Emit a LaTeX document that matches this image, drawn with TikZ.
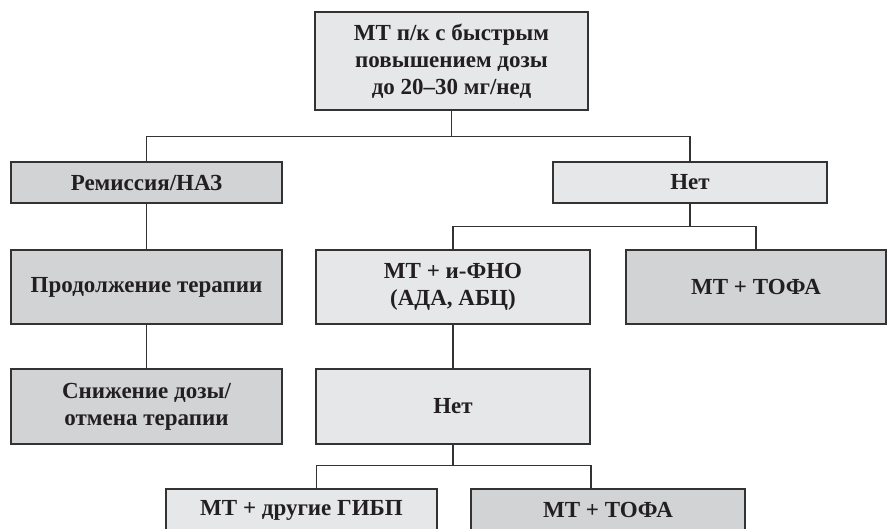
\documentclass[tikz,border=0pt]{standalone}
\usepackage{fontspec}
\setmainfont{Liberation Serif}
\definecolor{lightbox}{HTML}{E6E7E8}
\definecolor{darkbox}{HTML}{D1D3D4}
\definecolor{edge}{HTML}{333333}
\definecolor{ink}{HTML}{231F20}
\begin{document}
\begin{tikzpicture}[x=1pt,y=-1pt,
  box/.style={draw=edge,line width=1.3pt,inner sep=2pt,align=center,
    font=\fontsize{23}{27}\selectfont\bfseries,text=ink},
  lbox/.style={box,fill=lightbox},
  dbox/.style={box,fill=darkbox},
  conn/.style={draw=edge,line width=1.3pt}]
\clip (0,0) rectangle (888,528);
\fill[white] (0,0) rectangle (888,528);
\node[lbox,minimum width=273pt,minimum height=98pt] (top) at (451.5,61)
  {МТ п/к с быстрым\\повышением дозы\\до 20–30 мг/нед};
\node[dbox,minimum width=271pt,minimum height=41pt] (rem) at (146.5,182.5) {Ремиссия/НАЗ};
\node[lbox,minimum width=274pt,minimum height=41pt] (net1) at (690,182.5) {Нет};
\node[dbox,minimum width=271pt,minimum height=74pt] (prod) at (146.5,287) {Продолжение терапии};
\node[lbox,minimum width=274pt,minimum height=74pt] (fno) at (453,287) {МТ + и-ФНО\\(АДА, АБЦ)};
\node[dbox,minimum width=260pt,minimum height=74pt] (tofa1) at (756,287) {МТ + ТОФА};
\node[dbox,minimum width=271pt,minimum height=75pt] (sniz) at (146.5,406.5) {Снижение дозы/\\отмена терапии};
\node[lbox,minimum width=274pt,minimum height=75pt] (net2) at (453,406.5) {Нет};
\node[lbox,minimum width=271pt,minimum height=42pt] (gibp) at (301.5,510) {МТ + другие ГИБП};
\node[dbox,minimum width=274pt,minimum height=42pt] (tofa2) at (608,510) {МТ + ТОФА};
\draw[conn] (top.south) -- ++(0,26) coordinate (j1);
\draw[conn] (j1) -| (rem.north);
\draw[conn] (j1) -| (net1.north);
\draw[conn] (net1.south) -- ++(0,23) coordinate (j2);
\draw[conn] (j2) -| (fno.north);
\draw[conn] (j2) -| (tofa1.north);
\draw[conn] (rem.south) -- (prod.north);
\draw[conn] (prod.south) -- (sniz.north);
\draw[conn] (fno.south) -- (net2.north);
\draw[conn] (net2.south) -- ++(0,21) coordinate (j3);
\draw[conn] (j3) -| ([xshift=15pt]gibp.north);
\draw[conn] (j3) -| ([xshift=-17pt]tofa2.north);
\end{tikzpicture}
\end{document}
